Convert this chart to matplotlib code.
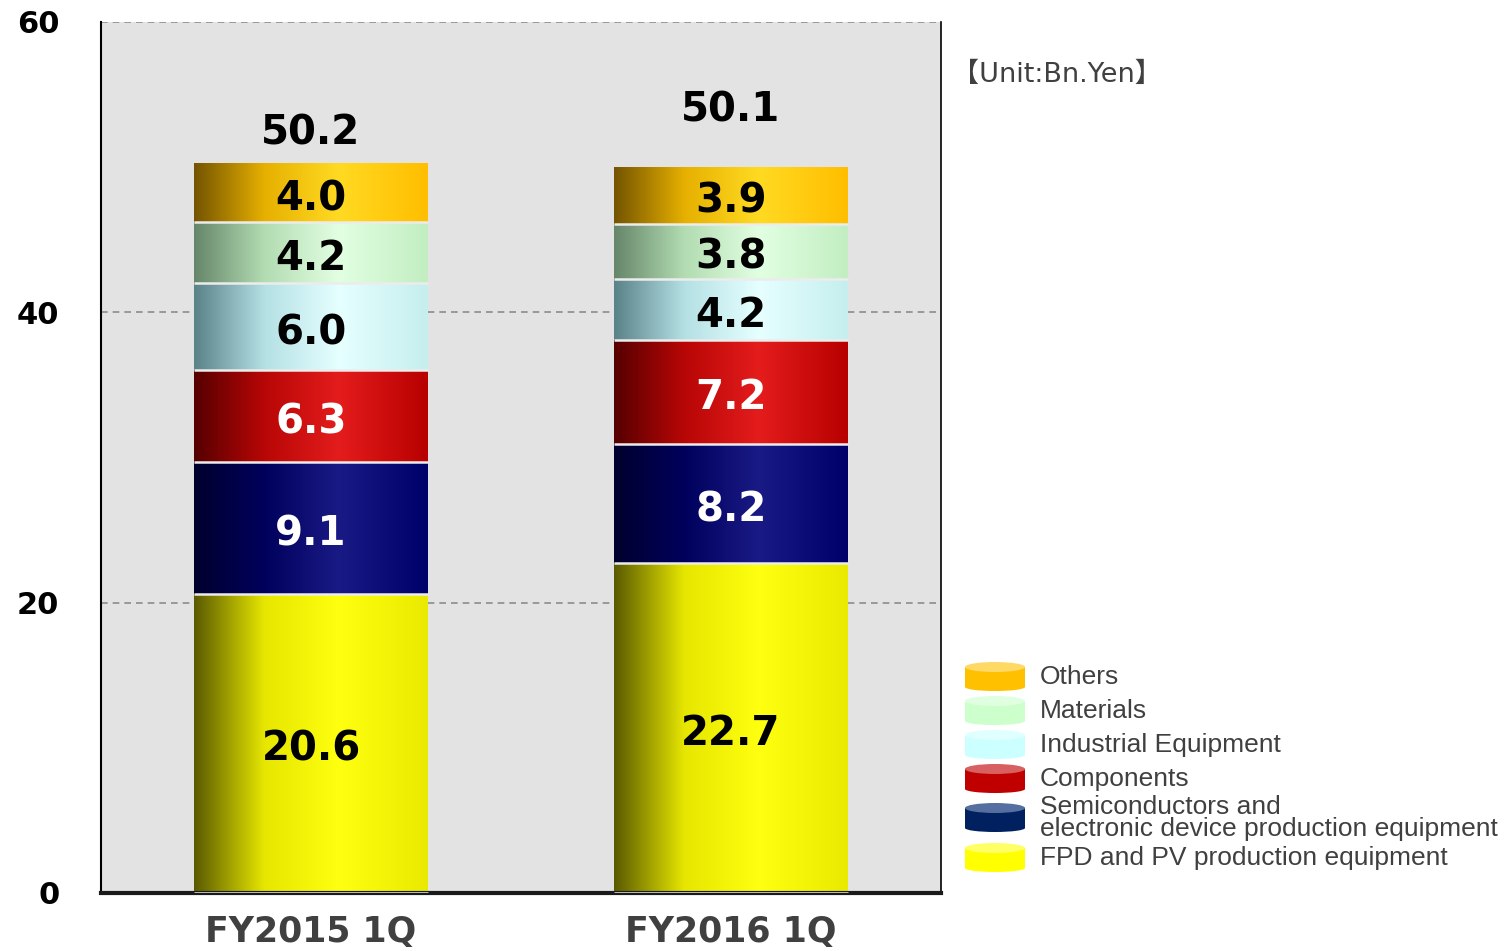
import numpy as np
import matplotlib

matplotlib.use("Agg")
import matplotlib.pyplot as plt
from matplotlib.colors import LinearSegmentedColormap
from matplotlib.patches import Rectangle, Ellipse

# data (Bn. Yen), stacked from bottom to top
periods = ["FY2015 1Q", "FY2016 1Q"]
segments = [
    "FPD and PV production equipment",
    "Semiconductors and\nelectronic device production equipment",
    "Components",
    "Industrial Equipment",
    "Materials",
    "Others",
]
fpd = [20.6, 22.7]
semis = [9.1, 8.2]
components = [6.3, 7.2]
industrial = [6.0, 4.2]
materials = [4.2, 3.8]
others = [4.0, 3.9]
totals = [50.2, 50.1]
yticks = [0, 20, 40, 60]

values = [fpd, semis, components, industrial, materials, others]

# left edge / body / highlight / right edge colours of the cylinder shading
shades = [
    ("#5a5a00", "#e6e600", "#ffff10", "#eaea00"),
    ("#00002e", "#00005c", "#1a1a86", "#00006a"),
    ("#560000", "#b80606", "#e41c1c", "#b80000"),
    ("#5a8288", "#b4e0e4", "#e6ffff", "#c6eeee"),
    ("#66866a", "#b2dcb2", "#e2ffe2", "#c2eec2"),
    ("#745400", "#e6b000", "#ffda22", "#ffbe00"),
]
legend_colors = ["#ffff00", "#002060", "#c00000", "#ccffff", "#ccffcc", "#ffc000"]
legend_tops = ["#ffff66", "#5570a0", "#d86060", "#e0ffff", "#e0ffe0", "#ffd966"]
label_colors = ["black", "white", "white", "black", "black", "black"]

fig = plt.figure(figsize=(15.08, 9.51), dpi=100)
ax = fig.add_axes([0.067, 0.061, 0.557, 0.916])
ax.set_facecolor("#e3e3e3")

bar_w = 0.555
grad = np.linspace(0, 1, 256).reshape(1, -1)
for i, period in enumerate(periods):
    bottom = 0
    for s, vals in enumerate(values):
        v = vals[i]
        left_c, body_c, mid_c, right_c = shades[s]
        cmap = LinearSegmentedColormap.from_list(
            "c%d" % s, [(0, left_c), (0.3, body_c), (0.62, mid_c), (1, right_c)]
        )
        ax.imshow(grad, cmap=cmap, aspect="auto", interpolation="bicubic",
                  extent=[i - bar_w / 2, i + bar_w / 2, bottom, bottom + v], zorder=2)
        ax.plot([i - bar_w / 2, i + bar_w / 2], [bottom, bottom], color="#ececec",
                lw=1.8, zorder=3, solid_capstyle="butt")
        ax.annotate("%.1f" % v, (i, bottom + v / 2), xytext=(0, -4.5),
                    textcoords="offset points", ha="center", va="center",
                    fontsize=29, fontweight="bold", color=label_colors[s], zorder=4)
        bottom += v

total_offsets = [2.1, 3.8]
for i, t in enumerate(totals):
    ax.text(i, t + total_offsets[i], "%.1f" % t, ha="center", va="center",
            fontsize=29, fontweight="bold", color="black", zorder=4)

ax.set_xlim(-0.5, 1.5)
ax.set_ylim(0, 60)
ax.set_yticks(yticks)
ax.set_yticklabels([str(t) for t in yticks], fontsize=22, fontweight="bold")
ax.set_xticks(range(len(periods)))
ax.set_xticklabels(periods, fontsize=25, fontweight="bold", color="#404040")
ax.tick_params(axis="y", length=0, pad=30)
ax.tick_params(axis="x", length=0, pad=16)
for y in yticks[1:]:
    ax.axhline(y, color="#8c8c8c", lw=1.2, ls=(0, (4, 3)), zorder=1)

ax.spines["top"].set_visible(False)
ax.spines["left"].set_color("black")
ax.spines["left"].set_linewidth(1.5)
ax.spines["right"].set_color("black")
ax.spines["right"].set_linewidth(1.2)
ax.spines["bottom"].set_color("#1a1a1a")
ax.spines["bottom"].set_linewidth(3)

# overlay in pixel coordinates for the legend and the unit note
ov = fig.add_axes([0, 0, 1, 1])
ov.set_xlim(0, 1508)
ov.set_ylim(951, 0)
ov.axis("off")

ov.text(952, 75, "【Unit:Bn.Yen】", fontsize=19.5, color="#404040", va="center",
        family=["DejaVu Sans", "Noto Sans CJK JP"])

row_y = [857, 817, 778, 744, 710, 676]
for s in range(len(segments) - 1, -1, -1):
    y = row_y[s]
    ov.add_patch(Rectangle((965, y - 9), 60, 20, facecolor=legend_colors[s], edgecolor="none"))
    ov.add_patch(Ellipse((995, y + 11), 60, 8, facecolor=legend_colors[s], edgecolor="none"))
    ov.add_patch(Ellipse((995, y - 9), 60, 10, facecolor=legend_tops[s], edgecolor="none"))
    ov.text(1040, y + 1, segments[s], fontsize=19, color="#404040", va="center",
            family="Liberation Sans", linespacing=0.85)

fig.savefig("out.png", dpi=100)
